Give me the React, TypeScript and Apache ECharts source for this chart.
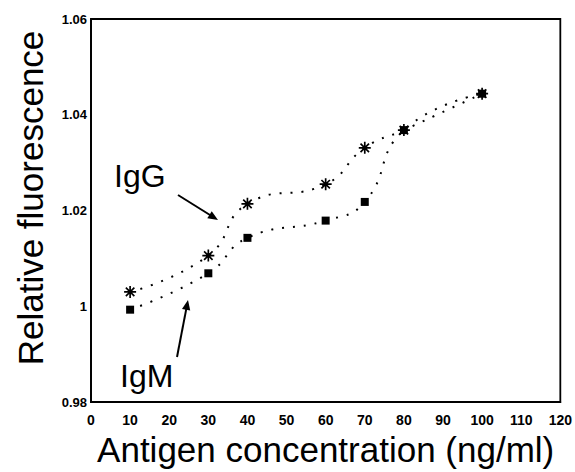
import React, { useEffect, useRef } from 'react';
import * as echarts from 'echarts';

// ---- data ----
const concentrations = [10, 30, 40, 60, 70, 80, 100];
const igGValues = [1.003, 1.0106, 1.0214, 1.0255, 1.0331, 1.0368, 1.0444];
const igMValues = [0.9993, 1.0069, 1.0143, 1.0179, 1.0218, 1.0368, 1.0444];
const xAxisRange = { min: 0, max: 120, interval: 10 };
const yAxisRange = { min: 0.98, max: 1.06, interval: 0.02 };
const seriesNames = ['IgG', 'IgM'];
const xTitle = 'Antigen concentration (ng/ml)';
const yTitle = 'Relative fluorescence';

const FONT = '"Liberation Sans", Arial, Helvetica, sans-serif';

const ASTERISK =
  'path://M-1.4,-10L1.4,-10L1.4,10L-1.4,10Z' +
  'M-10,-1.4L10,-1.4L10,1.4L-10,1.4Z' +
  'M8.06,6.08L6.08,8.06L-8.06,-6.08L-6.08,-8.06Z' +
  'M6.08,-8.06L8.06,-6.08L-6.08,8.06L-8.06,6.08Z';

function arrow(x1: number, y1: number, x2: number, y2: number) {
  const dx = x2 - x1;
  const dy = y2 - y1;
  const len = Math.sqrt(dx * dx + dy * dy);
  const ux = dx / len;
  const uy = dy / len;
  const headLen = 10;
  const headHalf = 4.2;
  const bx = x2 - ux * headLen;
  const by = y2 - uy * headLen;
  const px = -uy * headHalf;
  const py = ux * headHalf;
  return [
    {
      type: 'line',
      shape: { x1, y1, x2: bx + ux * 2, y2: by + uy * 2 },
      style: { stroke: '#000', lineWidth: 2 },
      silent: true,
    },
    {
      type: 'polygon',
      shape: {
        points: [
          [x2, y2],
          [bx + px, by + py],
          [bx - px, by - py],
        ],
      },
      style: { fill: '#000' },
      silent: true,
    },
  ];
}

export default function App() {
  const ref = useRef<HTMLDivElement>(null);

  useEffect(() => {
    if (!ref.current) return;
    const chart = echarts.init(ref.current, undefined, { renderer: 'svg' });
    const lineStyle = {
      color: '#000',
      width: 2,
      type: [2, 9] as any,
    };
    chart.setOption({
      animation: false,
      backgroundColor: '#fff',
      grid: {
        left: 91,
        right: 14,
        top: 19,
        bottom: 62,
        show: true,
        borderColor: '#000',
        borderWidth: 1.8,
        containLabel: false,
      },
      xAxis: {
        type: 'value',
        min: xAxisRange.min,
        max: xAxisRange.max,
        interval: xAxisRange.interval,
        name: xTitle,
        nameLocation: 'middle',
        nameGap: 29,
        nameTextStyle: {
          fontFamily: FONT,
          fontSize: 35,
          color: '#000',
          verticalAlign: 'top',
        },
        axisLine: { show: true, lineStyle: { color: '#000', width: 1.8 } },
        axisTick: { show: false },
        splitLine: { show: false },
        axisLabel: {
          fontFamily: FONT,
          fontSize: 14,
          fontWeight: 'bold',
          color: '#000',
          margin: 11,
        },
      },
      yAxis: {
        type: 'value',
        min: yAxisRange.min,
        max: yAxisRange.max,
        interval: yAxisRange.interval,
        axisLine: { show: true, lineStyle: { color: '#000', width: 1.8 } },
        axisTick: { show: false },
        splitLine: { show: false },
        axisLabel: {
          fontFamily: FONT,
          fontSize: 13,
          fontWeight: 'bold',
          color: '#000',
          margin: 4,
          padding: [6, 0, 0, 0],
          formatter: (v: number) => (Math.abs(v - 1) < 1e-9 ? '1' : v.toFixed(2)),
        },
      },
      series: [
        {
          name: seriesNames[0],
          type: 'line',
          smooth: 0.5,
          data: concentrations.map((x, i) => [x, igGValues[i]]),
          symbol: ASTERISK,
          symbolSize: 12,
          itemStyle: { color: '#000' },
          lineStyle,
          z: 3,
        },
        {
          name: seriesNames[1],
          type: 'line',
          smooth: 0.5,
          data: concentrations.map((x, i) => [x, igMValues[i]]),
          symbol: 'rect',
          symbolSize: 8,
          itemStyle: { color: '#000' },
          lineStyle,
          z: 2,
        },
      ],
      graphic: [
        {
          type: 'text',
          rotation: Math.PI / 2,
          x: 30,
          y: 198,
          style: {
            text: yTitle,
            font: `35px ${FONT}`,
            fill: '#000',
            align: 'center',
            verticalAlign: 'middle',
          },
          silent: true,
        },
        {
          type: 'text',
          x: 114,
          y: 176,
          style: {
            text: seriesNames[0],
            font: `32px ${FONT}`,
            fill: '#000',
            align: 'left',
            verticalAlign: 'middle',
          },
          silent: true,
        },
        {
          type: 'text',
          x: 120,
          y: 376,
          style: {
            text: seriesNames[1],
            font: `32px ${FONT}`,
            fill: '#000',
            align: 'left',
            verticalAlign: 'middle',
          },
          silent: true,
        },
        ...arrow(178, 195, 218, 220),
        ...arrow(177, 357, 188, 300),
      ],
    });
    return () => chart.dispose();
  }, []);

  return (
    <div
      ref={ref}
      style={{ position: 'fixed', left: 0, top: 0, width: 575, height: 472, background: '#fff' }}
    />
  );
}
